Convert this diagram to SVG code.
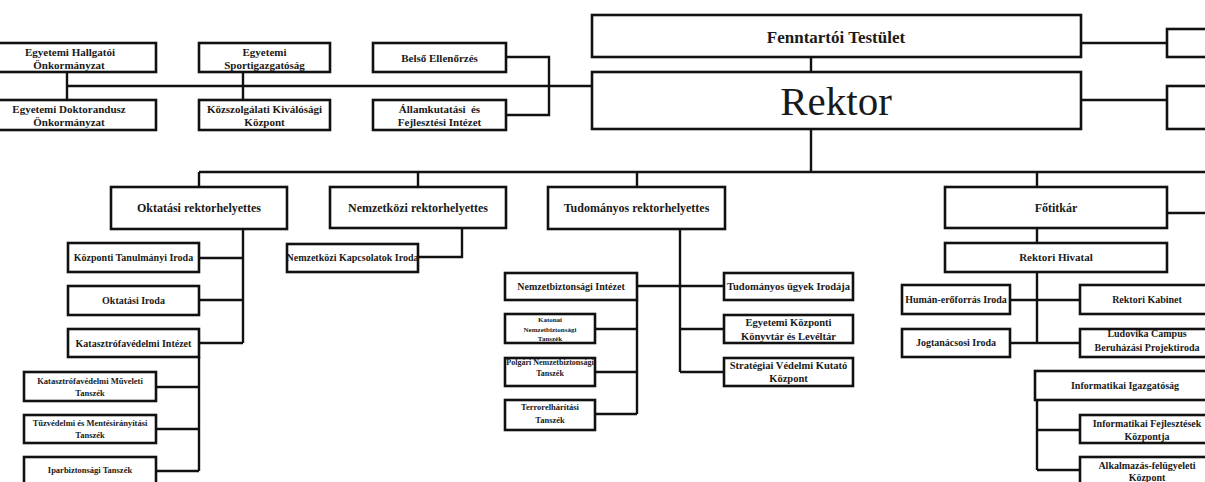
<svg xmlns="http://www.w3.org/2000/svg" width="1205" height="482" viewBox="0 0 1205 482">
<style>
.b{fill:#fff;stroke:#111;stroke-width:2.6}
.c{fill:none;stroke:#111;stroke-width:2.4}
text{font-family:"Liberation Serif","Times New Roman",serif;font-weight:bold;fill:#1a1a1a;text-anchor:middle}
.s17{font-size:17px}.s12{font-size:12px}.s11{font-size:11px}.s10{font-size:10px}.s105{font-size:10.5px}.s9{font-size:9px}.s85{font-size:8.5px}.s8{font-size:8px}.s7{font-size:7px}
.big{font-size:41px;font-weight:normal}
</style>
<rect width="1205" height="482" fill="#fff"/>
<g id="connectors">
<path class="c" d="M67 72V100M67 86H592M243 72V100M506 57H549V115H506M811 57V72M1081 43H1167M1081 100H1167M811 129V172M199 172H1210M199 172V187M418 172V187M637 172V187M1037 172V187"/>
<path class="c" d="M243 229V343M199 258H243M199 300H243M199 343H243M199 357V471M156 387H199M156 429H199M156 471H199"/>
<path class="c" d="M462 228V257H418"/>
<path class="c" d="M680 229V372M637 286H724M680 329H724M680 372H724M637 300V414M595 329H637M595 372H637M595 414H637"/>
<path class="c" d="M1167 213H1210M1037 228V243M1037 272V343M1010 300H1080M1010 343H1080M1037 400V470M1037 430H1080M1037 470H1080"/>
</g>
<g id="hallgatoi"><rect class="b" x="-10" y="43" width="166" height="29"/><text class="s11" x="70" y="56">Egyetemi Hallgatói</text><text class="s11" x="69" y="69">Önkormányzat</text></g>
<g id="doktorandusz"><rect class="b" x="-10" y="100" width="166" height="30"/><text class="s11" x="69" y="112.5">Egyetemi Doktorandusz</text><text class="s11" x="69" y="126">Önkormányzat</text></g>
<g id="sport"><rect class="b" x="199" y="43" width="131" height="29"/><text class="s11" x="264.5" y="56">Egyetemi</text><text class="s11" x="264.5" y="69">Sportigazgatóság</text></g>
<g id="kozszolgalati"><rect class="b" x="199" y="100" width="131" height="30"/><text class="s11" x="264.5" y="112.5">Közszolgálati Kiválósági</text><text class="s11" x="264.5" y="126">Központ</text></g>
<g id="belso"><rect class="b" x="373" y="43" width="133" height="29"/><text class="s11" x="439.5" y="61.5">Belső Ellenőrzés</text></g>
<g id="allamkutatasi"><rect class="b" x="373" y="100" width="133" height="30"/><text class="s11" x="439.5" y="112.5" xml:space="preserve">Államkutatási  és</text><text class="s11" x="439.5" y="126">Fejlesztési Intézet</text></g>
<g id="fenntartoi"><rect class="b" x="592" y="15" width="489" height="42"/><text class="s17" x="836" y="42.5">Fenntartói Testület</text></g>
<g id="rektor"><rect class="b" x="592" y="72" width="489" height="57"/><text class="big" x="836" y="115">Rektor</text></g>
<g id="right-top-1"><rect class="b" x="1167" y="29" width="60" height="28"/></g>
<g id="right-top-2"><rect class="b" x="1167" y="86" width="60" height="43"/></g>
<g id="oktatasi-rh"><rect class="b" x="111" y="187" width="176" height="42"/><text class="s12" x="199" y="212">Oktatási rektorhelyettes</text></g>
<g id="nemzetkozi-rh"><rect class="b" x="330" y="187" width="176" height="41"/><text class="s12" x="418" y="212">Nemzetközi rektorhelyettes</text></g>
<g id="tudomanyos-rh"><rect class="b" x="548" y="187" width="177" height="42"/><text class="s12" x="636.5" y="212">Tudományos rektorhelyettes</text></g>
<g id="fotitkar"><rect class="b" x="945" y="187" width="222" height="41"/><text class="s12" x="1056" y="212">Főtitkár</text></g>
<g id="kti"><rect class="b" x="68" y="243" width="131" height="29"/><text class="s10" x="133.5" y="261">Központi Tanulmányi Iroda</text></g>
<g id="oktatasi-iroda"><rect class="b" x="68" y="286" width="131" height="29"/><text class="s10" x="133.5" y="304">Oktatási Iroda</text></g>
<g id="katasztrofa-intezet"><rect class="b" x="68" y="329" width="131" height="28"/><text class="s10" x="133.5" y="346.5">Katasztrófavédelmi Intézet</text></g>
<g id="kat-muveleti"><rect class="b" x="24" y="372" width="132" height="29"/><text class="s85" x="90" y="384">Katasztrófavédelmi Műveleti</text><text class="s85" x="90" y="396">Tanszék</text></g>
<g id="tuzvedelmi"><rect class="b" x="24" y="415" width="132" height="28"/><text class="s85" x="90" y="426">Tűzvédelmi és Mentésirányítási</text><text class="s85" x="90" y="437.5">Tanszék</text></g>
<g id="iparbiztonsagi"><rect class="b" x="24" y="457" width="132" height="32"/><text class="s85" x="90" y="473">Iparbiztonsági Tanszék</text></g>
<g id="nki"><rect class="b" x="287" y="244" width="131" height="28"/><text class="s10" x="352.5" y="261">Nemzetközi Kapcsolatok Iroda</text></g>
<g id="nbi"><rect class="b" x="505" y="273" width="132" height="27"/><text class="s10" x="571" y="290">Nemzetbiztonsági Intézet</text></g>
<g id="katonai"><rect class="b" x="505" y="314" width="90" height="29"/><text class="s7" x="550" y="322">Katonai</text><text class="s7" x="550" y="331.5">Nemzetbiztonsági</text><text class="s7" x="550" y="341">Tanszék</text></g>
<g id="polgari"><rect class="b" x="505" y="358" width="90" height="28"/><text class="s8" x="550" y="365">Polgári Nemzetbiztonsági</text><text class="s8" x="550" y="376">Tanszék</text></g>
<g id="terror"><rect class="b" x="505" y="400" width="90" height="30"/><text class="s85" x="550" y="410">Terrorelhárítási</text><text class="s85" x="550" y="423">Tanszék</text></g>
<g id="tui"><rect class="b" x="724" y="273" width="129" height="27"/><text class="s105" x="788.5" y="290">Tudományos ügyek Irodája</text></g>
<g id="ekk"><rect class="b" x="724" y="315" width="129" height="28"/><text class="s105" x="788.5" y="326">Egyetemi Központi</text><text class="s105" x="788.5" y="339.5">Könyvtár és Levéltár</text></g>
<g id="svk"><rect class="b" x="724" y="358" width="129" height="28"/><text class="s105" x="788.5" y="369">Stratégiai Védelmi Kutató</text><text class="s105" x="788.5" y="382">Központ</text></g>
<g id="rektori-hivatal"><rect class="b" x="945" y="243" width="222" height="29"/><text class="s11" x="1056" y="261">Rektori Hivatal</text></g>
<g id="human"><rect class="b" x="902" y="285" width="108" height="29"/><text class="s10" x="956" y="303">Humán-erőforrás Iroda</text></g>
<g id="kabinet"><rect class="b" x="1080" y="285" width="135" height="29"/><text class="s10" x="1147" y="303">Rektori Kabinet</text></g>
<g id="jog"><rect class="b" x="902" y="329" width="108" height="28"/><text class="s10" x="956" y="346">Jogtanácsosi Iroda</text></g>
<g id="ludovika"><rect class="b" x="1080" y="329" width="135" height="28"/><text class="s10" x="1147" y="337">Ludovika Campus</text><text class="s10" x="1147" y="350.5">Beruházási Projektiroda</text></g>
<g id="info-igazg"><rect class="b" x="1035" y="371" width="180" height="29"/><text class="s10" x="1125" y="389">Informatikai Igazgatóság</text></g>
<g id="info-fejl"><rect class="b" x="1080" y="415" width="135" height="28"/><text class="s10" x="1147" y="427">Informatikai Fejlesztések</text><text class="s10" x="1147" y="440">Központja</text></g>
<g id="alkalmazas"><rect class="b" x="1080" y="457" width="135" height="33"/><text class="s10" x="1147" y="468.5">Alkalmazás-felügyeleti</text><text class="s10" x="1147" y="481">Központ</text></g>
</svg>
